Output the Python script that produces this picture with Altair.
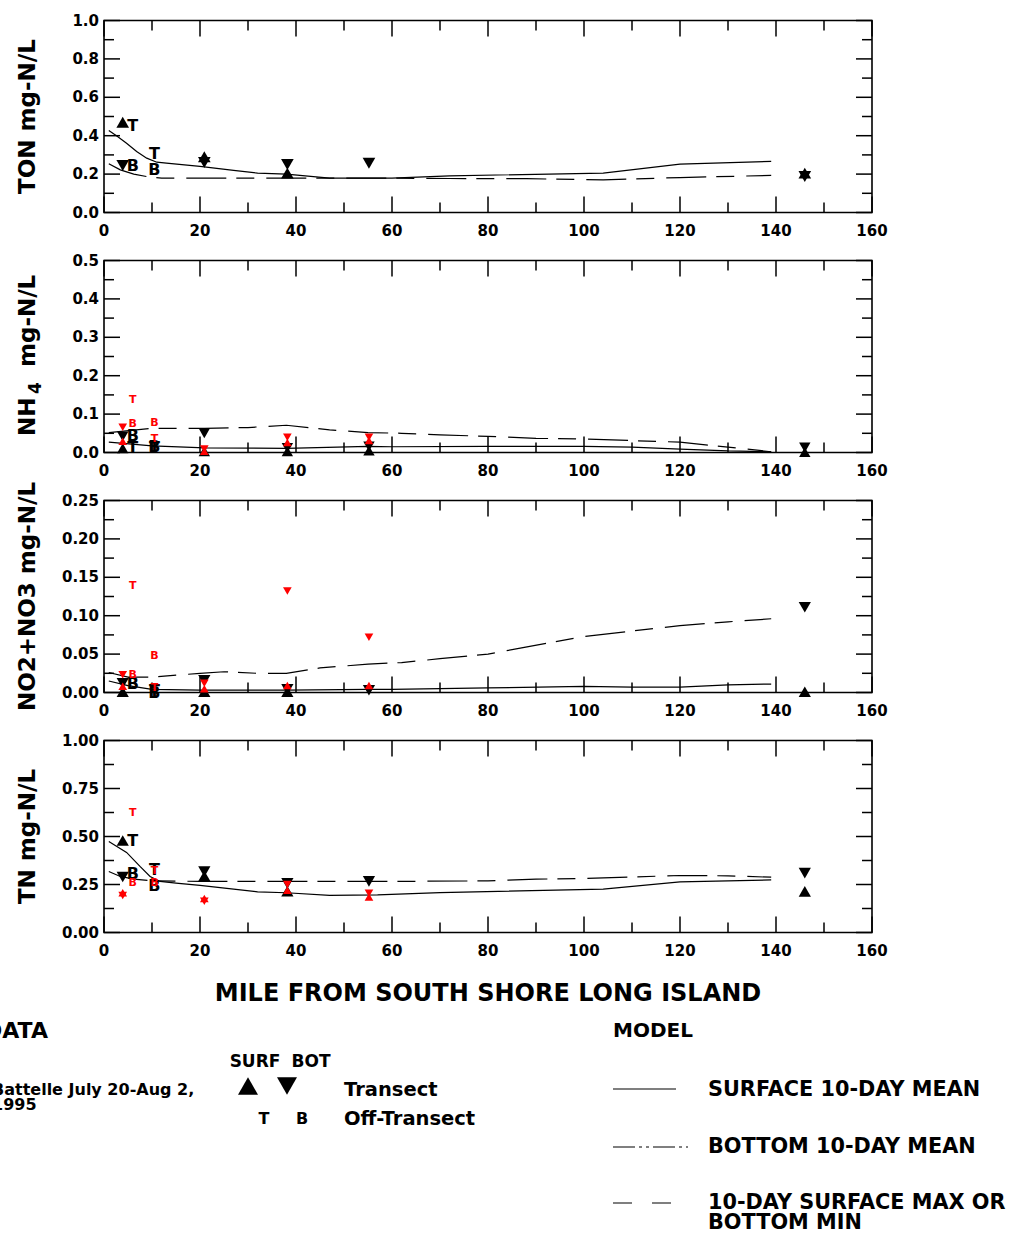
import altair as alt
import pandas as pd

# ----------------------------- DATA -----------------------------
x_major = [0, 20, 40, 60, 80, 100, 120, 140, 160]
x_minor = [10, 30, 50, 70, 90, 110, 130, 150]

# TON
ton_surf_x = [1, 2.6, 4.7, 6.8, 8.9, 11, 13, 20, 27, 32, 38, 47, 60, 72, 104, 120, 139]
ton_surf_y = [0.427, 0.40, 0.361, 0.318, 0.283, 0.262, 0.257, 0.24, 0.219, 0.205, 0.20, 0.179, 0.179, 0.191, 0.205, 0.252, 0.266]
ton_dash_x = [1, 3.4, 6.2, 8.9, 12, 20, 40, 60, 72, 88, 104, 120, 139]
ton_dash_y = [0.254, 0.222, 0.20, 0.187, 0.179, 0.179, 0.179, 0.179, 0.177, 0.176, 0.17, 0.182, 0.193]
ton_black_up = [(3.9, 0.47), (20.9, 0.29), (38.2, 0.205), (146, 0.205)]
ton_black_down = [(3.9, 0.245), (20.9, 0.26), (38.2, 0.25), (55.2, 0.257), (146, 0.187)]
ton_black_T = [(6, 0.452), (10.5, 0.306)]
ton_black_B = [(6, 0.24), (10.5, 0.219)]
ton_red_up, ton_red_down, ton_red_T, ton_red_B = [], [], [], []

# NH4
nh4_surf_x = [1, 10, 21, 38, 55, 60, 80, 100, 110, 120, 130, 139]
nh4_surf_y = [0.027, 0.017, 0.012, 0.011, 0.016, 0.015, 0.016, 0.016, 0.014, 0.009, 0.004, 0.002]
nh4_dash_x = [1, 10, 21, 30, 38, 47, 55, 62, 70, 80, 90, 100, 110, 120, 130, 139]
nh4_dash_y = [0.052, 0.063, 0.063, 0.065, 0.071, 0.059, 0.052, 0.05, 0.046, 0.042, 0.037, 0.035, 0.031, 0.027, 0.014, 0.002]
nh4_black_up = [(3.9, 0.011), (20.9, 0.003), (38.2, 0.003), (55.2, 0.005), (146, 0.001)]
nh4_black_down = [(3.9, 0.042), (20.9, 0.05), (38.2, 0.012), (55.2, 0.016), (146, 0.013)]
nh4_black_T = [(6, 0.011), (10.5, 0.012)]
nh4_black_B = [(6, 0.042), (10.5, 0.015)]
nh4_red_up = [(3.9, 0.029), (20.9, 0.003), (38.2, 0.026), (55.2, 0.031)]
nh4_red_down = [(3.9, 0.066), (20.9, 0.009), (38.2, 0.040), (55.2, 0.040)]
nh4_red_T = [(6, 0.137), (10.5, 0.035)]
nh4_red_B = [(6, 0.075), (10.5, 0.078)]

# NO2+NO3
no3_surf_x = [1, 5, 10, 20, 38, 55, 60, 80, 100, 110, 120, 130, 139]
no3_surf_y = [0.015, 0.009, 0.004, 0.003, 0.003, 0.004, 0.004, 0.006, 0.008, 0.007, 0.007, 0.010, 0.011]
no3_dash_x = [1, 5, 10, 20, 25, 32, 38, 45, 55, 62, 70, 80, 87, 100, 110, 120, 130, 139]
no3_dash_y = [0.026, 0.020, 0.020, 0.025, 0.027, 0.025, 0.025, 0.032, 0.037, 0.039, 0.044, 0.050, 0.058, 0.073, 0.080, 0.087, 0.092, 0.096]
no3_black_up = [(3.9, 0.001), (20.9, 0.001), (38.2, 0.001), (146, 0.001)]
no3_black_down = [(3.9, 0.012), (20.9, 0.016), (38.2, 0.004), (55.2, 0.003), (146, 0.111)]
no3_black_T = [(10.5, 0.002)]
no3_black_B = [(6, 0.011), (10.5, 0.0)]
no3_red_up = [(3.9, 0.008), (20.9, 0.005), (38.2, 0.009), (55.2, 0.009)]
no3_red_down = [(3.9, 0.023), (20.9, 0.012), (38.2, 0.132), (55.2, 0.072)]
no3_red_T = [(6, 0.139), (10.5, 0.006)]
no3_red_B = [(6, 0.023), (10.5, 0.047)]

# TN
tn_surf_x = [1, 4.7, 7.5, 9.6, 11.7, 15, 20, 27, 32, 38, 47, 57, 70, 104, 120, 139]
tn_surf_y = [0.474, 0.417, 0.344, 0.292, 0.266, 0.257, 0.245, 0.226, 0.212, 0.207, 0.193, 0.196, 0.208, 0.226, 0.264, 0.274]
tn_dash_x = [1, 3.4, 6.2, 10.4, 20, 40, 60, 80, 90, 100, 120, 130, 139]
tn_dash_y = [0.318, 0.292, 0.278, 0.269, 0.266, 0.266, 0.266, 0.269, 0.278, 0.281, 0.297, 0.295, 0.288]
tn_black_up = [(3.9, 0.479), (20.9, 0.294), (38.2, 0.215), (146, 0.214)]
tn_black_down = [(3.9, 0.289), (20.9, 0.317), (38.2, 0.256), (55.2, 0.266), (146, 0.309)]
tn_black_T = [(6, 0.479), (10.5, 0.327)]
tn_black_B = [(6, 0.306), (10.5, 0.24)]
tn_red_up = [(3.9, 0.207), (20.9, 0.177), (38.2, 0.22), (55.2, 0.185)]
tn_red_down = [(3.9, 0.193), (20.9, 0.163), (38.2, 0.25), (55.2, 0.205)]
tn_red_T = [(6, 0.625), (10.5, 0.318)]
tn_red_B = [(6, 0.26), (10.5, 0.257)]

# y-axis ticks / labels
ton_major = [0, 0.2, 0.4, 0.6, 0.8, 1.0]
ton_minor = [0.1, 0.3, 0.5, 0.7, 0.9]
ton_labels = ["0.0", "0.2", "0.4", "0.6", "0.8", "1.0"]
nh4_major = [0, 0.1, 0.2, 0.3, 0.4, 0.5]
nh4_minor = [0.05, 0.15, 0.25, 0.35, 0.45]
nh4_labels = ["0.0", "0.1", "0.2", "0.3", "0.4", "0.5"]
no3_major = [0, 0.05, 0.10, 0.15, 0.20, 0.25]
no3_minor = [0.025, 0.075, 0.125, 0.175, 0.225]
no3_labels = ["0.00", "0.05", "0.10", "0.15", "0.20", "0.25"]
tn_major = [0, 0.25, 0.5, 0.75, 1.0]
tn_minor = [0.125, 0.375, 0.625, 0.875]
tn_labels = ["0.00", "0.25", "0.50", "0.75", "1.00"]

# ----------------------------- STYLE / LAYOUT -----------------------------
FONT = "DejaVu Sans"
XL, XR = 104, 872
x_scale = alt.Scale(domain=[0, 160], range=[XL, XR], nice=False, zero=False)
DASH = [40, 10, 18, 12]

panels = [
    dict(top=20.5, bottom=212.5, ymax=1.0, major=ton_major, minor=ton_minor, labels=ton_labels,
         surf=(ton_surf_x, ton_surf_y), dash=(ton_dash_x, ton_dash_y),
         pts=[ton_black_up, ton_black_down, ton_black_T, ton_black_B, ton_red_up, ton_red_down, ton_red_T, ton_red_B],
         title=["TON mg-N/L"], bsize=160),
    dict(top=260.5, bottom=452.5, ymax=0.5, major=nh4_major, minor=nh4_minor, labels=nh4_labels,
         surf=(nh4_surf_x, nh4_surf_y), dash=(nh4_dash_x, nh4_dash_y),
         pts=[nh4_black_up, nh4_black_down, nh4_black_T, nh4_black_B, nh4_red_up, nh4_red_down, nh4_red_T, nh4_red_B],
         title=None, bsize=130),
    dict(top=500.5, bottom=692.5, ymax=0.25, major=no3_major, minor=no3_minor, labels=no3_labels,
         surf=(no3_surf_x, no3_surf_y), dash=(no3_dash_x, no3_dash_y),
         pts=[no3_black_up, no3_black_down, no3_black_T, no3_black_B, no3_red_up, no3_red_down, no3_red_T, no3_red_B],
         title=["NO2+NO3 mg-N/L"], bsize=150),
    dict(top=740.5, bottom=932.5, ymax=1.0, major=tn_major, minor=tn_minor, labels=tn_labels,
         surf=(tn_surf_x, tn_surf_y), dash=(tn_dash_x, tn_dash_y),
         pts=[tn_black_up, tn_black_down, tn_black_T, tn_black_B, tn_red_up, tn_red_down, tn_red_T, tn_red_B],
         title=["TN mg-N/L"], bsize=150),
]

ONE = pd.DataFrame({"k": [0]})


def txt(text, x, y, size, align="left", baseline="alphabetic", angle=0, color="black"):
    return alt.Chart(pd.DataFrame({"t": [text]})).mark_text(
        font=FONT, fontWeight="bold", fontSize=size, align=align, baseline=baseline,
        angle=angle, color=color).encode(x=alt.value(x), y=alt.value(y), text="t:N")


def panel(p):
    top, bot = p["top"], p["bottom"]
    ys = alt.Scale(domain=[0, p["ymax"]], range=[bot, top], nice=False, zero=False)
    X = lambda f: alt.X(f, scale=x_scale, axis=None)
    Y = lambda f: alt.Y(f, scale=ys, axis=None)
    L = []
    # frame
    L.append(alt.Chart(ONE).mark_rect(fillOpacity=0, stroke="black", strokeWidth=1.6).encode(
        x=alt.value(XL), x2=alt.value(XR), y=alt.value(top), y2=alt.value(bot)))
    # x ticks (inward, top and bottom)
    for vals, ln in ((x_major, 16), (x_minor, 10)):
        d = pd.DataFrame({"v": vals})
        L.append(alt.Chart(d).mark_rule(color="black", strokeWidth=1.5).encode(
            x=X("v:Q"), y=alt.value(bot - ln), y2=alt.value(bot)))
        L.append(alt.Chart(d).mark_rule(color="black", strokeWidth=1.5).encode(
            x=X("v:Q"), y=alt.value(top), y2=alt.value(top + ln)))
    # y ticks (inward, left and right)
    for vals, ln in ((p["major"], 16), (p["minor"], 10)):
        d = pd.DataFrame({"v": vals})
        L.append(alt.Chart(d).mark_rule(color="black", strokeWidth=1.5).encode(
            y=Y("v:Q"), x=alt.value(XL), x2=alt.value(XL + ln)))
        L.append(alt.Chart(d).mark_rule(color="black", strokeWidth=1.5).encode(
            y=Y("v:Q"), x=alt.value(XR - ln), x2=alt.value(XR)))
    # tick labels
    L.append(alt.Chart(pd.DataFrame({"v": x_major, "t": [str(v) for v in x_major]})).mark_text(
        font=FONT, fontWeight="bold", fontSize=15, align="center", baseline="middle").encode(
        x=X("v:Q"), y=alt.value(bot + 18), text="t:N"))
    L.append(alt.Chart(pd.DataFrame({"v": p["major"], "t": p["labels"]})).mark_text(
        font=FONT, fontWeight="bold", fontSize=15, align="right", baseline="middle").encode(
        y=Y("v:Q"), x=alt.value(99), text="t:N"))
    # y title
    mid = (top + bot) / 2
    if p["title"] is not None:
        L.append(txt(p["title"][0], 28, mid, 23, align="center", baseline="middle", angle=270))
    else:
        L.append(txt("NH", 28, 436, 23, align="left", baseline="middle", angle=270))
        L.append(txt("4", 36, 394, 17, align="left", baseline="middle", angle=270))
        L.append(txt("mg-N/L", 28, 367, 23, align="left", baseline="middle", angle=270))
    # model lines
    sx, sy = p["surf"]
    dx, dy = p["dash"]
    L.append(alt.Chart(pd.DataFrame({"x": sx, "y": sy})).mark_line(color="black", strokeWidth=1.2).encode(
        x=X("x:Q"), y=Y("y:Q")))
    L.append(alt.Chart(pd.DataFrame({"x": dx, "y": dy})).mark_line(color="black", strokeWidth=1.2,
                                                                   strokeDash=DASH).encode(
        x=X("x:Q"), y=Y("y:Q")))
    # observations
    kinds = [("up", "black"), ("down", "black"), ("T", "black"), ("B", "black"),
             ("up", "red"), ("down", "red"), ("T", "red"), ("B", "red")]
    for (kind, col), data in zip(kinds, p["pts"]):
        if not data:
            continue
        d = pd.DataFrame(data, columns=["x", "y"])
        if kind in ("up", "down"):
            size = p["bsize"] if col == "black" else 75
            L.append(alt.Chart(d).mark_point(
                shape="triangle-up" if kind == "up" else "triangle-down", filled=True,
                color=col, size=size, opacity=1, strokeWidth=0).encode(x=X("x:Q"), y=Y("y:Q")))
        else:
            fs = 16 if col == "black" else 11
            L.append(alt.Chart(d).mark_text(text=kind, font=FONT, fontWeight="bold", fontSize=fs,
                                            color=col, align="center", baseline="middle").encode(
                x=X("x:Q"), y=Y("y:Q")))
    return alt.layer(*L)


# legend / annotation layers
legend = [
    txt("MILE FROM SOUTH SHORE LONG ISLAND", 488, 1001, 24, align="center"),
    txt("DATA", -16, 1038, 22),
    txt("Battelle July 20-Aug 2,", -8, 1095, 16),
    txt("1995", -8, 1110, 16),
    txt("SURF", 255, 1067, 17, align="center"),
    txt("BOT", 311, 1067, 17, align="center"),
    alt.Chart(ONE).mark_point(shape="triangle-up", filled=True, color="black", size=400, opacity=1,
                              strokeWidth=0).encode(x=alt.value(248), y=alt.value(1086)),
    alt.Chart(ONE).mark_point(shape="triangle-down", filled=True, color="black", size=400, opacity=1,
                              strokeWidth=0).encode(x=alt.value(287), y=alt.value(1086)),
    txt("Transect", 344, 1096, 19.5),
    txt("T", 264, 1124, 16, align="center"),
    txt("B", 302, 1124, 16, align="center"),
    txt("Off-Transect", 344, 1125, 19.5),
    txt("MODEL", 613, 1037, 20),
    alt.Chart(ONE).mark_rule(color="black", strokeWidth=1.2).encode(
        x=alt.value(613), x2=alt.value(676), y=alt.value(1089)),
    txt("SURFACE 10-DAY MEAN", 708, 1096, 20.8),
    alt.Chart(ONE).mark_rule(color="black", strokeWidth=1.2, strokeDash=[22, 4, 3, 4, 3, 4]).encode(
        x=alt.value(613), x2=alt.value(688), y=alt.value(1147)),
    txt("BOTTOM 10-DAY MEAN", 708, 1153, 20.8),
    alt.Chart(ONE).mark_rule(color="black", strokeWidth=1.2, strokeDash=[19, 20]).encode(
        x=alt.value(613), x2=alt.value(671), y=alt.value(1203)),
    txt("10-DAY SURFACE MAX OR", 708, 1209, 20.8),
    txt("BOTTOM MIN", 708, 1229, 20.8),
]

chart = alt.layer(*[panel(p) for p in panels], *legend).resolve_scale(y="independent").properties(
    width=1015, height=1232, padding=0, autosize=alt.AutoSizeParams(type="none"),
    background="white").configure_view(strokeWidth=0)

chart.save("out.html", embed_options={"renderer": "svg", "actions": False})
